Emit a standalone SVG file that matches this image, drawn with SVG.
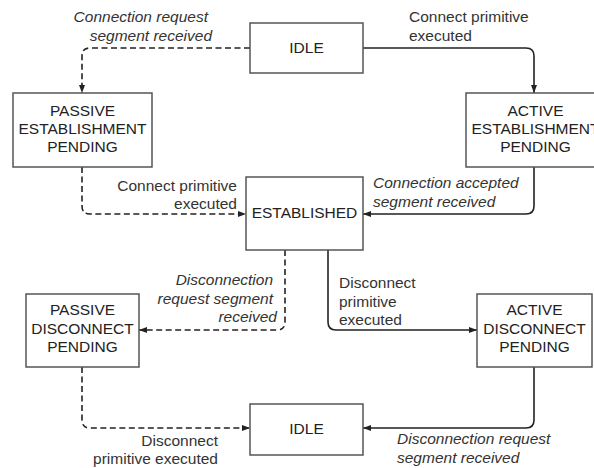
<svg xmlns="http://www.w3.org/2000/svg" width="594" height="468" viewBox="0 0 594 468">
<style>
.box{fill:#fff;stroke:#555;stroke-width:1.5}
.nt{font-family:"Liberation Sans",Arial,sans-serif;font-size:15.5px;fill:#222;text-anchor:middle}
.lb{font-family:"Liberation Sans",Arial,sans-serif;font-size:15.5px;fill:#333}
.it{font-style:italic}
.c{fill:none;stroke:#222;stroke-width:1.6}
.d{stroke-dasharray:6 3.5}
</style>
<defs>
<marker id="ah" markerUnits="userSpaceOnUse" markerWidth="9" markerHeight="7" refX="8" refY="3" orient="auto">
<path d="M0,0 L8,3 L0,6 z" fill="#222"/>
</marker>
</defs>
<rect width="594" height="468" fill="#fff"/>
<g id="connectors">
<path class="c d" d="M250,48 H90 Q82,48 82,56 V93" marker-end="url(#ah)"/>
<path class="c" d="M363,48 H526 Q534,48 534,56 V93" marker-end="url(#ah)"/>
<path class="c d" d="M82,167 V206 Q82,214 90,214 H246" marker-end="url(#ah)"/>
<path class="c" d="M534,167 V206 Q534,214 526,214 H363" marker-end="url(#ah)"/>
<path class="c d" d="M285,250 V322 Q285,330 277,330 H139" marker-end="url(#ah)"/>
<path class="c" d="M328,250 V322 Q328,330 336,330 H477" marker-end="url(#ah)"/>
<path class="c d" d="M82,367 V420 Q82,428 90,428 H250" marker-end="url(#ah)"/>
<path class="c" d="M534,367 V420 Q534,428 526,428 H363" marker-end="url(#ah)"/>
</g>
<g id="labels">
<text class="lb it" text-anchor="end"><tspan x="208" y="22">Connection request</tspan><tspan x="212" y="41">segment received</tspan></text>
<text class="lb"><tspan x="409" y="22">Connect primitive</tspan><tspan x="409" y="41">executed</tspan></text>
<text class="lb" text-anchor="end"><tspan x="237" y="191">Connect primitive</tspan><tspan x="237" y="209">executed</tspan></text>
<text class="lb it"><tspan x="373" y="188">Connection accepted</tspan><tspan x="373" y="207">segment received</tspan></text>
<text class="lb it" text-anchor="end"><tspan x="273" y="285">Disconnection</tspan><tspan x="273" y="304">request segment</tspan><tspan x="277" y="322">received</tspan></text>
<text class="lb"><tspan x="339" y="288">Disconnect</tspan><tspan x="339" y="307">primitive</tspan><tspan x="339" y="325">executed</tspan></text>
<text class="lb" text-anchor="end"><tspan x="218" y="446">Disconnect</tspan><tspan x="218" y="464">primitive executed</tspan></text>
<text class="lb it"><tspan x="397" y="444">Disconnection request</tspan><tspan x="397" y="463">segment received</tspan></text>
</g>
<g id="idle-top">
<rect class="box" x="250" y="23" width="113" height="50"/>
<text class="nt" x="306.5" y="53">IDLE</text>
</g>
<g id="passive-establishment">
<rect class="box" x="13" y="93" width="139" height="74"/>
<text class="nt"><tspan x="82.5" y="116">PASSIVE</tspan><tspan x="82.5" y="134">ESTABLISHMENT</tspan><tspan x="82.5" y="152">PENDING</tspan></text>
</g>
<g id="active-establishment">
<rect class="box" x="466" y="93" width="139" height="74"/>
<text class="nt"><tspan x="535.5" y="116">ACTIVE</tspan><tspan x="535.5" y="134">ESTABLISHMENT</tspan><tspan x="535.5" y="152">PENDING</tspan></text>
</g>
<g id="established">
<rect class="box" x="246" y="177" width="117" height="73"/>
<text class="nt" x="304.5" y="218">ESTABLISHED</text>
</g>
<g id="passive-disconnect">
<rect class="box" x="26" y="294" width="113" height="73"/>
<text class="nt"><tspan x="82.5" y="315">PASSIVE</tspan><tspan x="82.5" y="334">DISCONNECT</tspan><tspan x="82.5" y="352">PENDING</tspan></text>
</g>
<g id="active-disconnect">
<rect class="box" x="477" y="294" width="115" height="73"/>
<text class="nt"><tspan x="534.5" y="315">ACTIVE</tspan><tspan x="534.5" y="334">DISCONNECT</tspan><tspan x="534.5" y="352">PENDING</tspan></text>
</g>
<g id="idle-bottom">
<rect class="box" x="250" y="404" width="113" height="51"/>
<text class="nt" x="306.5" y="434">IDLE</text>
</g>
</svg>
